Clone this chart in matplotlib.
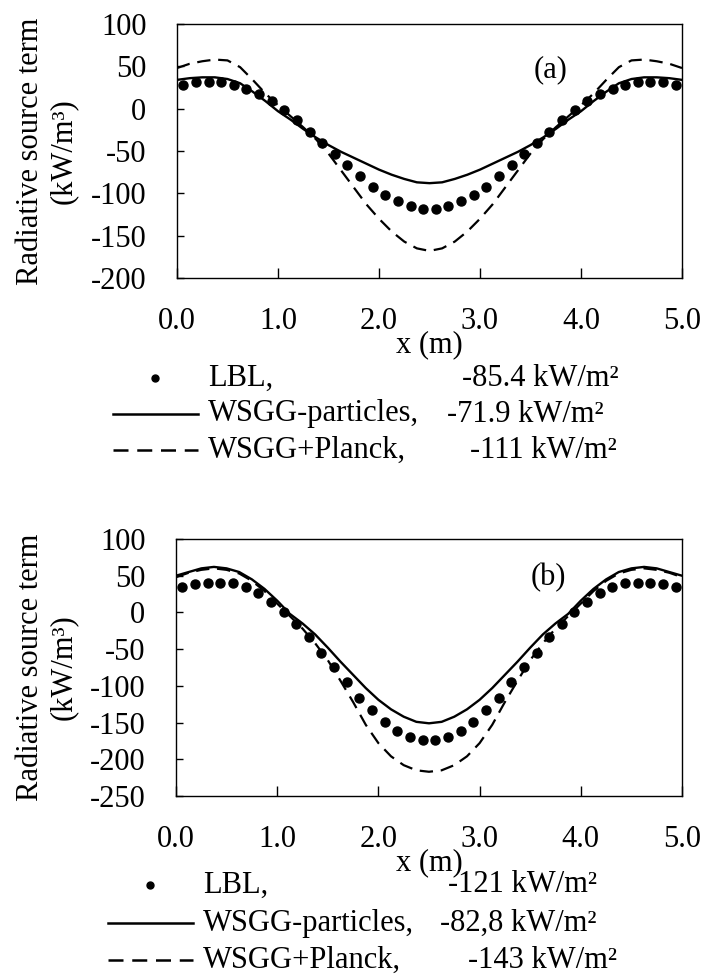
import matplotlib
matplotlib.use("Agg")
import matplotlib.pyplot as plt
from matplotlib.lines import Line2D
import numpy as np

plt.rcParams["font.family"] = ["Liberation Serif", "DejaVu Serif"]
plt.rcParams["axes.unicode_minus"] = False

# x positions (m)
x_line = np.arange(0, 5.0001, 0.125)
x_lbl = np.arange(0.0625, 5.0, 0.125)

# panel (a)
lbl_a = [28, 31, 32, 32, 28, 23, 17, 9, -1, -13, -28, -41, -54, -67, -80, -92,
         -102, -109, -115, -118, -118, -115, -109, -102, -92, -80, -67, -54, -41,
         -28, -13, -1, 9, 17, 23, 28, 32, 32, 31, 28]
wsgg_part_a = [34, 36, 37, 37, 35, 30, 20, 9, -3, -13, -24, -34, -43, -51, -58,
               -65, -72, -78, -83, -87, -88, -87, -83, -78, -72, -65, -58, -51,
               -43, -34, -24, -13, -3, 9, 20, 30, 35, 37, 37, 36, 34]
wsgg_planck_a = [48, 53, 56, 58, 57, 49, 34, 18, 4, -9, -22, -36, -53, -73, -93,
                 -113, -130, -145, -157, -165, -168, -165, -157, -145, -130, -113,
                 -93, -73, -53, -36, -22, -9, 4, 18, 34, 49, 57, 58, 56, 53, 48]

# panel (b)
lbl_b = [35, 39, 40, 40, 40, 34, 26, 14, 0, -16, -34, -55, -75, -95, -116, -133,
         -149, -161, -170, -174, -174, -170, -161, -149, -133, -116, -95, -75,
         -55, -34, -16, 0, 14, 26, 34, 40, 40, 40, 39, 35]
wsgg_part_b = [50, 55, 60, 62, 60, 55, 45, 32, 16, -2, -15, -30, -48, -67, -85,
               -103, -119, -132, -142, -149, -151, -149, -142, -132, -119, -103,
               -85, -67, -48, -30, -15, -2, 16, 32, 45, 55, 60, 62, 60, 55, 50]
wsgg_planck_b = [48, 54, 58, 60, 58, 53, 43, 29, 12, -5, -22, -42, -65, -93, -122,
                 -153, -178, -196, -208, -215, -217, -215, -208, -196, -178, -153,
                 -122, -93, -65, -42, -22, -5, 12, 29, 43, 53, 58, 60, 58, 54, 48]

x_ticks = [0, 1, 2, 3, 4, 5]
x_ticklabels = ["0.0", "1.0", "2.0", "3.0", "4.0", "5.0"]
yticks_a = [100, 50, 0, -50, -100, -150, -200]
yticks_b = [100, 50, 0, -50, -100, -150, -200, -250]

legend_names = ["LBL,", "WSGG-particles,", "WSGG+Planck,"]
legend_vals_a = ["-85.4 kW/m²", "-71.9 kW/m²", "-111 kW/m²"]
legend_vals_b = ["-121 kW/m²", "-82,8 kW/m²", "-143 kW/m²"]

FS = 22
W, H = 708, 980

fig = plt.figure(figsize=(7.08, 9.8), dpi=100)


def panel(rect, lbl, part, planck, yticks, tag, tag_pos):
    ax = fig.add_axes(rect)
    ax.plot(x_line, planck, color="black", linewidth=1.6, dashes=(6, 3.5))
    ax.plot(x_line, part, color="black", linewidth=1.7)
    ax.plot(x_lbl, lbl, "o", color="black", markersize=6.5, linestyle="none")
    ax.set_xlim(0, 5)
    ax.set_ylim(yticks[-1], yticks[0])
    ax.set_xticks(x_ticks)
    ax.set_xticklabels(x_ticklabels)
    ax.set_yticks(yticks)
    ax.set_yticklabels([str(v) for v in yticks])
    ax.tick_params(axis="x", direction="in", length=7, width=1, pad=21, labelsize=FS)
    ax.tick_params(axis="y", direction="in", length=5, width=1, pad=22, labelsize=FS)
    for s in ax.spines.values():
        s.set_linewidth(1.0)
    ax.set_xlabel("x (m)", fontsize=FS, labelpad=-4)
    ax.text(tag_pos[0], tag_pos[1], tag, transform=ax.transAxes, fontsize=FS,
            ha="center", va="center")
    # y label, two centred lines
    yc = rect[1] + rect[3] / 2
    fig.text(47 / W, yc, "Radiative source term\n(kW/m³)", rotation=90,
             ha="center", va="center", multialignment="center",
             fontsize=FS, linespacing=1.2)
    return ax


ax_a = panel([177 / W, 1 - 278 / H, 505 / W, 254 / H], lbl_a, wsgg_part_a,
             wsgg_planck_a, yticks_a, "(a)", (0.739, 0.819))
ax_b = panel([176 / W, 1 - 796 / H, 506 / W, 257 / H], lbl_b, wsgg_part_b,
             wsgg_planck_b, yticks_b, "(b)", (0.735, 0.848))


def legend_block(rows_y, x0, vals, val_x):
    styles = [dict(marker="o", markersize=5, linestyle="none"),
              dict(linestyle="-"),
              dict(dashes=(6, 3.5))]
    for i, y in enumerate(rows_y):
        yf = 1 - y / H
        st = styles[i]
        if i == 0:
            fig.add_artist(Line2D([(x0 + 42) / W], [yf], color="black",
                                  transform=fig.transFigure, **st))
        else:
            fig.add_artist(Line2D([(x0) / W, (x0 + 85) / W], [yf, yf],
                                  color="black", linewidth=1.8,
                                  transform=fig.transFigure, **st))
        fig.text((x0 + 95) / W, yf, legend_names[i], fontsize=FS,
                 ha="left", va="center")
        fig.text(val_x[i] / W, yf, vals[i], fontsize=FS, ha="left", va="center")


legend_block([378, 414, 450], 113, legend_vals_a, [462, 447, 470])
legend_block([885, 923, 960], 108, legend_vals_b, [448, 440, 468])

fig.savefig("out.png", dpi=100)
